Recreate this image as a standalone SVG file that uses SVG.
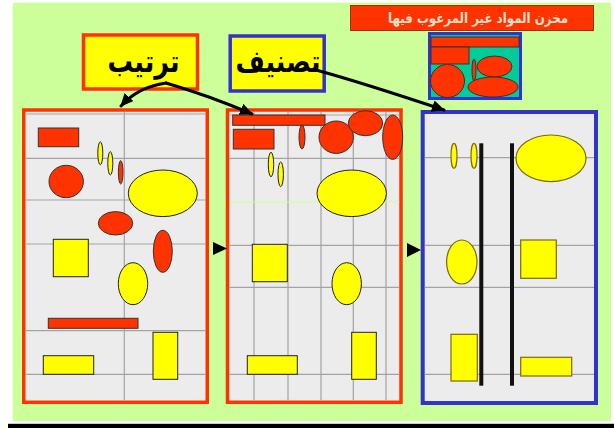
<svg xmlns="http://www.w3.org/2000/svg" width="614" height="428" viewBox="0 0 614 428">
<defs>
<marker id="ah" markerUnits="userSpaceOnUse" markerWidth="14" markerHeight="12" refX="12" refY="6" orient="auto">
<path d="M0,0 L13,6 L0,12 Z" fill="#000"/>
</marker>
<style>
.panel{fill:#ECECEC}
.grid{stroke:#A3A3A3;stroke-width:1.2;fill:none}
.red{fill:#FF3300;stroke:#333;stroke-width:1}
.yel{fill:#FFFF00;stroke:#222;stroke-width:1}
.yel3{fill:#FFFF00;stroke:#7A6A10;stroke-width:1.2}
.conn{fill:none;stroke:#000;stroke-width:3;stroke-linecap:round}
.ar{font-family:"DejaVu Sans",sans-serif;font-weight:bold;text-anchor:middle}
</style>
</defs>
<rect x="0" y="0" width="614" height="428" fill="#fff"/>
<rect x="12.7" y="2.7" width="598.3" height="418.3" fill="#CCFF99"/>
<rect x="8" y="423" width="606" height="1" fill="#ccc"/>
<rect x="8" y="424" width="606" height="4" fill="#000"/>

<g id="label-storage">
<rect x="350.5" y="5.5" width="243" height="25" fill="#FF3300" stroke="#993300" stroke-width="1"/>
<text class="ar" x="478" y="23" font-size="14" fill="#FFE2CC" textLength="180" lengthAdjust="spacingAndGlyphs">مخزن المواد غير المرغوب فيها</text>
</g>

<g id="storage">
<rect x="429.5" y="33.5" width="91" height="65" fill="#00CC99" stroke="#3333CC" stroke-width="3"/>
<rect x="431" y="37" width="88" height="10" class="red"/>
<rect x="431" y="47" width="38" height="17" class="red"/>
<ellipse cx="447.5" cy="81" rx="17" ry="16.5" class="red"/>
<ellipse cx="474" cy="70" rx="2" ry="11" class="red"/>
<ellipse cx="494.5" cy="66.5" rx="17.5" ry="10.5" class="red"/>
<ellipse cx="493" cy="87" rx="25" ry="10" class="red"/>
</g>

<g id="tarteeb">
<rect x="83.5" y="35" width="114" height="54" fill="#FFFF00" stroke="#FF3300" stroke-width="3.5"/>
<text class="ar" x="143.5" y="72" font-size="31" fill="#000" textLength="72" lengthAdjust="spacingAndGlyphs">ترتيب</text>
</g>

<g id="tasneef">
<rect x="230.2" y="36" width="94" height="55" fill="#FFFF00" stroke="#3333CC" stroke-width="3.5"/>
<text class="ar" x="278" y="72" font-size="31" fill="#000" textLength="85" lengthAdjust="spacingAndGlyphs">تصنيف</text>
</g>

<g id="panel1">
<rect x="23.75" y="110" width="183.5" height="292.3" class="panel" stroke="#FF3300" stroke-width="3.5"/>
<path class="grid" d="M124.3,112 V400.5 M25.5,114 H205.5 M25.5,158.3 H205.5 M25.5,200 H205.5 M25.5,244 H205.5 M25.5,330.7 H205.5 M25.5,374.3 H205.5"/>
<rect x="38.3" y="128" width="40.4" height="18.7" class="red"/>
<ellipse cx="100.3" cy="153.3" rx="2.5" ry="11.5" class="yel"/>
<ellipse cx="110.3" cy="163.3" rx="2.5" ry="11.7" class="yel"/>
<ellipse cx="120.7" cy="172.3" rx="2.3" ry="11.7" class="red"/>
<ellipse cx="66.2" cy="181.5" rx="17.2" ry="16.2" class="red"/>
<ellipse cx="162.8" cy="193.3" rx="34.5" ry="23.3" class="yel"/>
<ellipse cx="115.5" cy="223.3" rx="17.2" ry="11.7" class="red"/>
<rect x="53.3" y="239.3" width="35" height="37.4" class="yel"/>
<ellipse cx="162.8" cy="251.3" rx="9.5" ry="21" class="red"/>
<ellipse cx="133" cy="283.7" rx="14.7" ry="21" class="yel"/>
<rect x="48.3" y="318.3" width="89.7" height="10" class="red"/>
<rect x="43.3" y="355.7" width="50.4" height="18.6" class="yel"/>
<rect x="153" y="332.3" width="24.7" height="47" class="yel"/>
</g>

<g id="panel2">
<rect x="227.5" y="110" width="173.5" height="292.3" class="panel" stroke="#FF3300" stroke-width="3.5"/>
<path class="grid" d="M254,112 V400.5 M288,112 V400.5 M321,112 V400.5 M353.3,112 V400.5 M386,112 V400.5 M229.3,115 H399.3 M229.3,158.3 H399.3 M229.3,245.3 H399.3 M229.3,287.3 H399.3 M229.3,374.3 H399.3"/>
<path d="M229.3,202 H399.3" stroke="#CCFF99" stroke-width="1.2"/>
<rect x="232.7" y="115" width="92.3" height="10.3" class="red"/>
<rect x="233.3" y="129.3" width="40.7" height="19.7" class="red"/>
<ellipse cx="302" cy="137" rx="3" ry="12" class="red"/>
<ellipse cx="336.2" cy="137.2" rx="17.2" ry="16.2" class="red"/>
<ellipse cx="365.5" cy="123.2" rx="17.2" ry="12.5" class="red"/>
<ellipse cx="392.7" cy="137.2" rx="10" ry="22.2" class="red"/>
<ellipse cx="271" cy="164.5" rx="2.7" ry="12.2" class="yel"/>
<ellipse cx="280.7" cy="174.3" rx="2.7" ry="12.3" class="yel"/>
<ellipse cx="351.7" cy="193.3" rx="34.7" ry="23.3" class="yel"/>
<rect x="252.3" y="244.3" width="35" height="37.4" class="yel"/>
<ellipse cx="346.7" cy="283.7" rx="14.7" ry="21" class="yel"/>
<rect x="247.3" y="355.7" width="50" height="18.6" class="yel"/>
<rect x="351.7" y="332.3" width="24.6" height="47" class="yel"/>
</g>

<g id="panel3">
<rect x="422.7" y="112" width="173.3" height="291" class="panel" stroke="#3333CC" stroke-width="4"/>
<path class="grid" d="M424.7,157.7 H594 M424.7,245.3 H594 M424.7,287.3 H594 M424.7,374.3 H594"/>
<ellipse cx="454" cy="155.8" rx="3" ry="12.5" class="yel3"/>
<ellipse cx="474" cy="155.8" rx="3" ry="12.5" class="yel3"/>
<rect x="479.3" y="143.3" width="4" height="242.4" fill="#111"/>
<rect x="510" y="143.3" width="4" height="242.4" fill="#111"/>
<ellipse cx="551" cy="158.3" rx="35" ry="23.3" class="yel3"/>
<ellipse cx="461.8" cy="262" rx="15.2" ry="22" class="yel3"/>
<rect x="520.7" y="240" width="35.6" height="38.3" class="yel3"/>
<rect x="451" y="334.3" width="26.3" height="46.7" class="yel3"/>
<rect x="520.7" y="357.3" width="51" height="18.7" class="yel3"/>
</g>

<g id="connectors">
<path class="conn" d="M166,83 Q138,87 121,106" marker-end="url(#ah)"/>
<path class="conn" d="M166,83 Q210,96 252,114" marker-end="url(#ah)"/>
<path class="conn" d="M316,70 Q360,82 444,110" marker-end="url(#ah)"/>
<polygon points="213,242 213,255 227,248.5" fill="#000"/>
<polygon points="407,243 407,257 421,250" fill="#000"/>
</g>
</svg>
